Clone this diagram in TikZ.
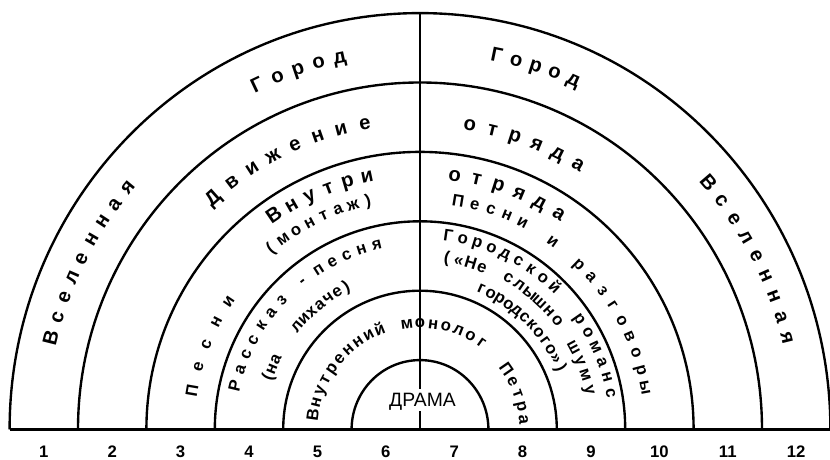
\documentclass[tikz,border=0pt]{standalone}
\usepackage{fontspec}
\setmainfont{Liberation Sans}
% one word set letter by letter on a clockwise arc: name, radius, first angle, step, style, letters
\newcommand\arcword[6]{%
    \foreach \ch [count=\i from 0] in {#6} {
        \node[#5,rotate={#3-#4*\i-90}] (#1\i) at ({#3-#4*\i}:#2) {\ch};
    }%
}
\begin{document}
\begin{tikzpicture}[x=0.02cm,y=0.02cm,
    arcline/.style={line width=1.35pt},
    bigtxt/.style={font=\fontsize{11.5}{12}\selectfont\bfseries,inner sep=0pt,text height=6pt,text depth=0pt},
    smalltxt/.style={font=\fontsize{9.5}{10}\selectfont\bfseries,inner sep=0pt,text height=5pt,text depth=0pt},
    numtxt/.style={font=\fontsize{9.5}{10}\selectfont\bfseries,inner sep=0pt},
    dramatxt/.style={font=\fontsize{11}{12}\selectfont,inner sep=1.5pt,text height=8pt,text depth=1pt}]
    \useasboundingbox (-420,-29.5) rectangle (410,429.5);
    % Полукольца и основание.
    \foreach \k in {1,...,6} {
        \draw[arcline] ({68.4*\k},0) arc[start angle=0,end angle=180,x radius={68.4*\k},y radius={69.4*\k}];
    }
    \draw[arcline] (-410.4,0) -- (410.4,0);
    \coordinate (base) at (0,0);
    \coordinate (top) at (0,416.4);
    \node[dramatxt] (drama) at (2.5,29.5) {ДРАМА};
    \draw[arcline] (base) -- (base |- drama.south);
    \draw[arcline] (top) -- (top |- drama.north);
    \foreach \i in {1,...,12} {
        \node[numtxt] (n\i) at ({68.4*(\i-6.5)},-22.5) {\i};
    }
    % Внешние кольца.
    \arcword{vl}{379}{166}{3.2}{bigtxt}{В,с,е,л,е,н,н,а,я}
    \arcword{gl}{380}{115.3}{3.28}{bigtxt}{Г,о,р,о,д}
    \arcword{gr}{381}{78.4}{3.03}{bigtxt}{Г,о,р,о,д}
    \arcword{vr}{378}{40.5}{3.31}{bigtxt}{В,с,е,л,е,н,н,а,я}
    \arcword{dv}{310}{131.8}{4.51}{bigtxt}{Д,в,и,ж,е,н,и,е}
    \arcword{of}{308}{80.7}{4.31}{bigtxt}{о,т,р,я,д,а}
    \arcword{vn}{258}{124.3}{4.5}{bigtxt}{В,н,у,т,р,и}
    \arcword{ot}{256}{82.2}{5}{bigtxt}{о,т,р,я,д,а}
    % Средние кольца.
    \arcword{pl}{230}{170.2}{6}{smalltxt}{П,е,с,н,и}
    \arcword{mo}{234}{129.6}{3.83}{smalltxt}{{(},м,о,н,т,а,ж,{)}}
    \arcword{pr}{231}{80.5}{4.2}{smalltxt}{П,е,с,н,и}
    \arcword{ii}{230}{54.8}{0}{smalltxt}{и}
    \arcword{rz}{229}{46.1}{4.44}{smalltxt}{р,а,з,г,о,в,о,р,ы}
    \arcword{ra}{189}{166.6}{4.95}{smalltxt}{Р,а,с,с,к,а,з}
    \arcword{da}{189}{128.5}{0}{smalltxt}{-}
    \arcword{pe}{189}{122.4}{4.8}{smalltxt}{п,е,с,н,я}
    \arcword{na}{160}{161.2}{3.5}{smalltxt}{{(},н,а}
    \arcword{li}{160}{140.2}{3.82}{smalltxt}{л,и,х,а,ч,е,{)}}
    \arcword{go}{195}{81.7}{4.39}{smalltxt}{Г,о,р,о,д,с,к,о,й}
    \arcword{rm}{194}{34.8}{4.8}{smalltxt}{р,о,м,а,н,с}
    \arcword{ne}{173}{81.1}{4}{smalltxt}{{(},«,Н,е}
    \arcword{sl}{175}{59.7}{4.26}{smalltxt}{с,л,ы,ш,н,о}
    \arcword{sh}{174}{28.1}{4.97}{smalltxt}{ш,у,м,у}
    \arcword{gs}{153}{66.4}{3.89}{smalltxt}{г,о,р,о,д,с,к,о,г,о,»,{)}}
    % Внутреннее кольцо.
    \arcword{vm}{107}{172.3}{6.71}{smalltxt}{В,н,у,т,р,е,н,н,и,й}
    \arcword{mn}{106}{97.1}{7.1}{smalltxt}{м,о,н,о,л,о,г}
    \arcword{pt}{104}{34.7}{7.3}{smalltxt}{П,е,т,р,а}
\end{tikzpicture}
\end{document}
